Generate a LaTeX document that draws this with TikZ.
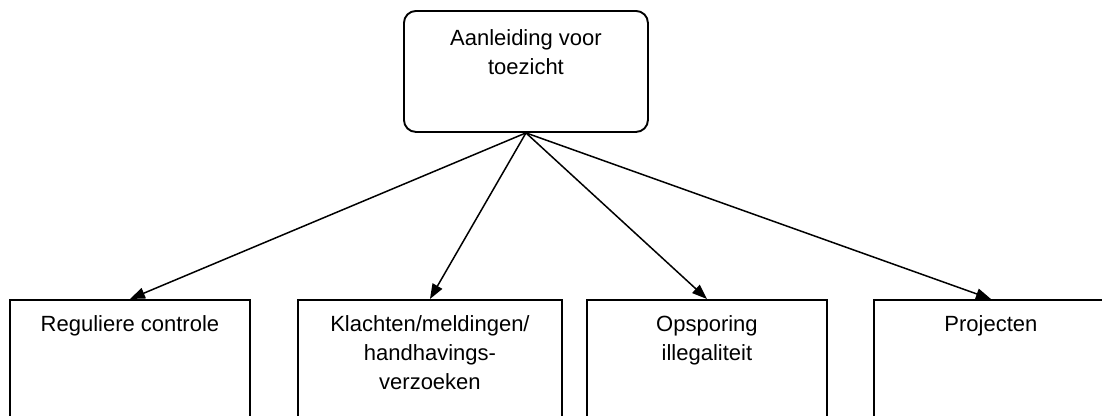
\documentclass[tikz,border=0pt]{standalone}
\usepackage{fontspec}
\setmainfont{Liberation Sans}
\usetikzlibrary{arrows.meta}
\begin{document}
\begin{tikzpicture}[x=1pt,y=1pt,
  box/.style={draw=black,line width=1.9pt,fill=white,inner sep=0pt,anchor=north west},
  lbl/.style={anchor=north,align=center,inner sep=0pt,font=\fontsize{22}{29}\selectfont},
  arr/.style={line width=1.5pt,-{Triangle[length=15pt,width=11pt]}}]
\useasboundingbox (0,0) rectangle (1102,-415);
\clip (0,0) rectangle (1102,-415);
\node[box,rounded corners=12pt,minimum width=244pt,minimum height=121pt] (top) at (403,-10) {};
\node[box,minimum width=240pt,minimum height=140pt] (b1) at (9,-299) {};
\node[box,minimum width=264pt,minimum height=140pt] (b2) at (297,-299) {};
\node[box,minimum width=240pt,minimum height=140pt] (b3) at (586,-299) {};
\node[box,minimum width=234pt,minimum height=140pt] (b4) at (873,-299) {};
\node[lbl] (ttop) at ([yshift=-19pt]top.north) {Aanleiding voor\\toezicht};
\node[lbl] (t1) at ([yshift=-16.5pt]b1.north) {Reguliere controle};
\node[lbl] (t2) at ([yshift=-16.5pt]b2.north) {Klachten/meldingen/\\handhavings-\\verzoeken};
\node[lbl] (t3) at ([yshift=-16.5pt]b3.north) {Opsporing\\illegaliteit};
\node[lbl] (t4) at ([yshift=-16.5pt]b4.north) {Projecten};
\draw[arr] (top.south) -- (b1.north);
\draw[arr] (top.south) -- (b2.north);
\draw[arr] (top.south) -- (b3.north);
\draw[arr] (top.south) -- (b4.north);
\end{tikzpicture}
\end{document}
